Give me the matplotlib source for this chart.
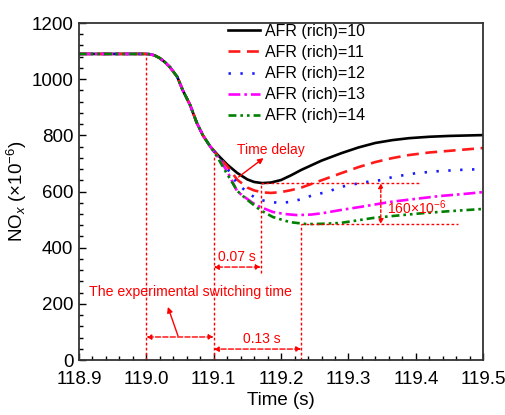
import matplotlib
matplotlib.use('Agg')
import matplotlib.pyplot as plt

plt.rcParams['font.family'] = ['Liberation Sans', 'DejaVu Sans']
plt.rcParams['mathtext.fontset'] = 'custom'
plt.rcParams['mathtext.rm'] = 'Liberation Sans'
plt.rcParams['mathtext.it'] = 'Liberation Sans:italic'

# shared falling part (all AFR values overlap here)
t_drop = [118.9, 119.0, 119.005, 119.012, 119.02, 119.028, 119.035, 119.046, 119.054,
          119.065, 119.075, 119.084, 119.09, 119.095]
nox_drop = [1090, 1090, 1089, 1085, 1075, 1060, 1043, 1008, 961, 908, 844, 800, 778, 760]

# individual recovery parts
t_10 = [119.105, 119.12, 119.135, 119.15, 119.16, 119.172, 119.185, 119.2, 119.215,
        119.23, 119.26, 119.29, 119.315, 119.34, 119.365, 119.39, 119.42, 119.45, 119.5]
nox_10 = [733, 696, 666, 643, 634, 630, 632, 641, 658, 677, 710, 737, 757, 773, 783,
          790, 795, 798, 801]

t_11 = [119.105, 119.12, 119.135, 119.15, 119.16, 119.172, 119.185, 119.2, 119.215,
        119.23, 119.26, 119.29, 119.315, 119.34, 119.365, 119.39, 119.42, 119.45, 119.5]
nox_11 = [730, 690, 642, 614, 604, 597, 595, 598, 605, 614, 640, 666, 687, 705, 719,
          730, 739, 745, 755]

t_12 = [119.105, 119.12, 119.135, 119.15, 119.165, 119.184, 119.199, 119.213, 119.231,
        119.248, 119.268, 119.288, 119.302, 119.317, 119.335, 119.35, 119.366, 119.384,
        119.402, 119.417, 119.436, 119.466, 119.5]
nox_12 = [728, 682, 628, 597, 572, 563, 559, 563, 573, 588, 598, 616, 623, 630, 637,
          641, 652, 659, 666, 669, 673, 677, 680]

t_13 = [119.105, 119.12, 119.135, 119.158, 119.169, 119.188, 119.205, 119.224, 119.245,
        119.262, 119.288, 119.325, 119.362, 119.4, 119.436, 119.47, 119.5]
nox_13 = [727, 672, 600, 559, 545, 527, 520, 516, 518, 523, 534, 548, 563, 574, 584,
          591, 598]

t_14 = [119.105, 119.12, 119.135, 119.15, 119.169, 119.188, 119.213, 119.238, 119.26,
        119.288, 119.31, 119.337, 119.375, 119.411, 119.45, 119.5]
nox_14 = [724, 662, 602, 570, 534, 509, 491, 484, 485, 488, 496, 506, 515, 523, 530, 538]

labels = ['AFR (rich)=10', 'AFR (rich)=11', 'AFR (rich)=12', 'AFR (rich)=13',
          'AFR (rich)=14']
series = [(t_10, nox_10), (t_11, nox_11), (t_12, nox_12), (t_13, nox_13), (t_14, nox_14)]
colors = ['black', '#ff1a1a', '#1a1aff', '#ff00ff', '#008000']
styles = ['-', (0, (4.5, 2.5)), (0, (0.9, 3.6)), (0, (4.5, 1.5, 1, 1.5)),
          (0, (3, 1.5, 1, 1.5, 1, 1.5))]

fig = plt.figure(figsize=(5.06, 4.15), dpi=100)
ax = fig.add_axes([0.156, 0.1325, 0.799, 0.812])

for (t, v), lab, c, ls in zip(series, labels, colors, styles):
    ax.plot(t_drop + t, nox_drop + v, color=c, linestyle=ls, lw=1.9, label=lab)

ax.set_xlim(118.9, 119.5)
ax.set_ylim(0, 1200)
ax.set_xticks([118.9, 119.0, 119.1, 119.2, 119.3, 119.4, 119.5])
ax.set_xticklabels(['118.9', '119.0', '119.1', '119.2', '119.3', '119.4', '119.5'])
ax.set_yticks(range(0, 1201, 200))
ax.set_xticks([118.9 + 0.02 * i for i in range(31)], minor=True)
ax.set_yticks(range(0, 1201, 40), minor=True)
ax.tick_params(which='both', direction='in', labelsize=13.5, top=False, right=False)
ax.tick_params(which='major', length=5, width=1)
ax.tick_params(which='minor', length=3, width=1)
ax.tick_params(axis='x', pad=8)
ax.tick_params(axis='y', pad=4)
for s in ax.spines.values():
    s.set_linewidth(1.3)
    s.set_color('#333333')

ax.set_xlabel('Time (s)', fontsize=13.5, labelpad=3)
ax.set_ylabel(r'NO$_x$ ($\times$10$^{-6}$)', fontsize=13.5, labelpad=2)

red = 'red'
dot = (0, (2, 1.6))
# vertical marker lines
ax.plot([119.0, 119.0], [0, 1090], color=red, lw=1, ls=dot)
ax.plot([119.1, 119.1], [0, 722], color=red, lw=1, ls=dot)
ax.plot([119.17, 119.17], [310, 630], color=red, lw=1, ls=dot)
ax.plot([119.23, 119.23], [0, 484], color=red, lw=1, ls=dot)
# horizontal marker lines
ax.plot([119.17, 119.406], [630, 630], color=red, lw=1, ls=dot)
ax.plot([119.23, 119.463], [484, 484], color=red, lw=1, ls=dot)

arr = dict(arrowstyle='<|-|>', color=red, lw=1, ls='--', mutation_scale=7,
           shrinkA=0, shrinkB=0)
ax.annotate('', xy=(119.0, 82), xytext=(119.1, 82), arrowprops=arr)
ax.annotate('', xy=(119.1, 331), xytext=(119.17, 331), arrowprops=arr)
ax.annotate('', xy=(119.1, 39), xytext=(119.23, 39), arrowprops=arr)
ax.annotate('', xy=(119.348, 630), xytext=(119.348, 484),
            arrowprops=dict(arrowstyle='<|-|>', color=red, lw=1, ls=dot,
                            mutation_scale=7, shrinkA=0, shrinkB=0))

single = dict(arrowstyle='-|>', color=red, lw=1, mutation_scale=8,
              shrinkA=0, shrinkB=0)
ax.annotate('', xy=(119.032, 189), xytext=(119.047, 86), arrowprops=single)
ax.annotate('', xy=(119.174, 719), xytext=(119.137, 652), arrowprops=single)

ax.text(119.135, 748, 'Time delay', color=red, fontsize=10, va='center', ha='left')
ax.text(119.135, 367, '0.07 s', color=red, fontsize=10, va='center', ha='center')
ax.text(119.172, 75, '0.13 s', color=red, fontsize=10, va='center', ha='center')
ax.text(119.065, 242, 'The experimental switching time', color=red, fontsize=10.2,
        va='center', ha='center')
ax.text(119.357, 541, r'160$\times$10$^{-6}$', color=red, fontsize=10,
        va='center', ha='left')

ax.legend(loc='upper left', bbox_to_anchor=(228 / 506, 1 - 24 / 415),
          bbox_transform=fig.transFigure, frameon=False, fontsize=11.5,
          handlelength=2.0, handletextpad=0.3, labelspacing=0.38,
          borderpad=0, borderaxespad=0)

fig.savefig('out.png', dpi=100)
